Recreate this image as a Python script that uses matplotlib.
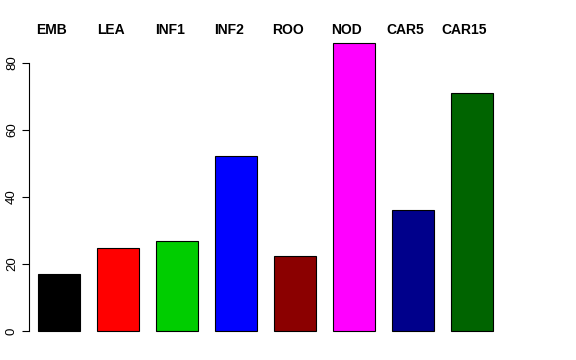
import matplotlib
matplotlib.use("Agg")
import matplotlib.pyplot as plt
import numpy as np

plt.rcParams['font.family'] = ['Liberation Sans', 'DejaVu Sans']

# tissue labels and values
tissues = ["EMB", "LEA", "INF1", "INF2", "ROO", "NOD", "CAR5", "CAR15"]
values = [16.9, 24.8, 26.9, 52.3, 22.5, 85.8, 36.0, 71.0]
colors = ["#000000", "#FF0000", "#00CD00", "#0000FF",
          "#8B0000", "#FF00FF", "#00008B", "#006400"]
yticks = [0, 20, 40, 60, 80]

W, H = 576, 360
fig = plt.figure(figsize=(W / 100, H / 100), dpi=100)
ax = fig.add_axes([29 / W, (H - 342.7) / H, (511.3 - 29) / W, (342.7 - 31.5) / H])

# barplot-like layout: width 1, space 0.4
x = 0.4 + 1.4 * np.arange(len(values)) + 0.5
ax.bar(x, values, width=1.0, color=colors, edgecolor="black", linewidth=0.8)

ax.set_xlim(0.186, 11.632)
ax.set_ylim(-3.5, 89.3)

for s in ["top", "right", "bottom"]:
    ax.spines[s].set_visible(False)
ax.spines["left"].set_bounds(0, 80)
ax.spines["left"].set_linewidth(0.8)
ax.set_xticks([])
ax.set_yticks(yticks)
ax.set_yticklabels([str(t) for t in yticks], rotation=90, va="center", fontsize=9.5)
ax.tick_params(axis="y", length=5, width=0.8, pad=3)

for xi, name in zip(x, tissues):
    ax.annotate(name, xy=(xi, 1), xycoords=("data", "axes fraction"),
                xytext=(-5.4, 0.8), textcoords="offset points",
                ha="center", va="center", fontsize=10, fontweight="bold")

fig.savefig("out.png", dpi=100)
